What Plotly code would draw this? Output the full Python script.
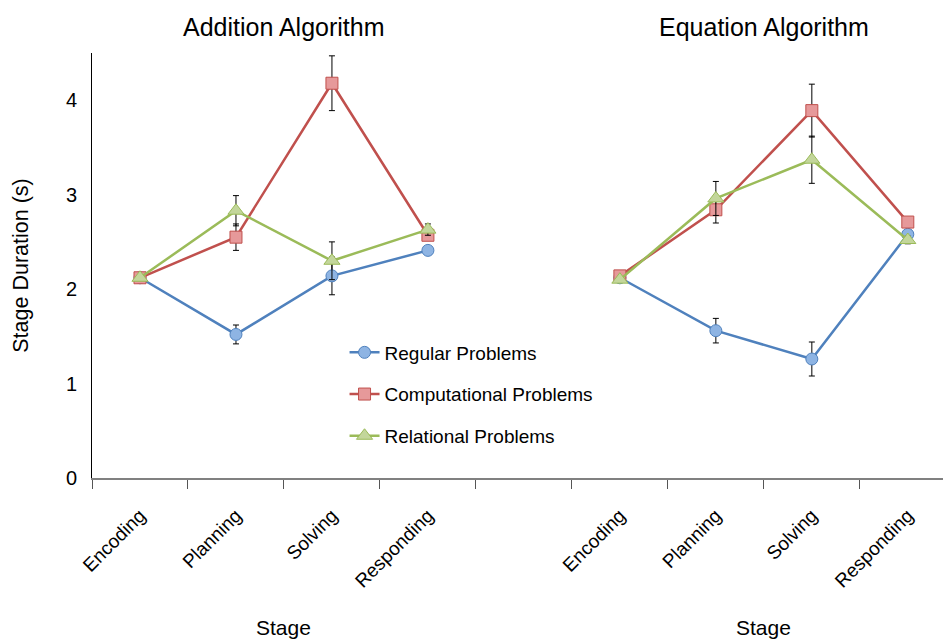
import plotly.graph_objects as go

stages = ["Encoding", "Planning", "Solving", "Responding"]
panels = ["Addition Algorithm", "Equation Algorithm"]
series_names = ["Regular Problems", "Computational Problems", "Relational Problems"]

# Addition algorithm
add_regular = [2.12, 1.52, 2.14, 2.41]
add_regular_err = [0.02, 0.10, 0.20, 0.03]
add_comp = [2.12, 2.55, 4.18, 2.57]
add_comp_err = [0.02, 0.14, 0.29, 0.05]
add_rel = [2.12, 2.83, 2.30, 2.63]
add_rel_err = [0.02, 0.16, 0.20, 0.06]

# Equation algorithm
eq_regular = [2.12, 1.56, 1.26, 2.58]
eq_regular_err = [0.02, 0.13, 0.18, 0.03]
eq_comp = [2.14, 2.84, 3.89, 2.71]
eq_comp_err = [0.02, 0.14, 0.28, 0.04]
eq_rel = [2.10, 2.96, 3.37, 2.52]
eq_rel_err = [0.02, 0.18, 0.25, 0.04]

line_colors = ["#4F81BD", "#C0504D", "#9BBB59"]
fill_colors = ["#8EB4E3", "#E6999A", "#C3D69B"]
symbols = ["circle", "square", "triangle-up"]
sizes = [12, 12, 14]

FONT = "Liberation Sans, Arial, sans-serif"

x_add = list(range(len(stages)))
x_eq = [len(stages) + 1 + i for i in range(len(stages))]

data = [
    (add_regular, add_regular_err, eq_regular, eq_regular_err),
    (add_comp, add_comp_err, eq_comp, eq_comp_err),
    (add_rel, add_rel_err, eq_rel, eq_rel_err),
]

fig = go.Figure()
for i, (ya, ea, ye, ee) in enumerate(data):
    for xs, ys, es, show in [(x_add, ya, ea, True), (x_eq, ye, ee, False)]:
        fig.add_trace(go.Scatter(
            x=xs, y=ys, mode="lines+markers",
            name=series_names[i], legendgroup=series_names[i], showlegend=show,
            line=dict(color=line_colors[i], width=2.5),
            marker=dict(symbol=symbols[i], size=sizes[i], color=fill_colors[i],
                        line=dict(color=line_colors[i], width=1)),
            error_y=dict(type="data", array=es, visible=True, color="black",
                         thickness=1, width=3),
        ))

tickvals = x_add + x_eq
ticktext = stages + stages

# page body has an 8px margin: figure is sized/placed to compensate
fig.update_layout(
    width=943, height=635,
    margin=dict(l=84, r=0, t=45, b=165, autoexpand=False),
    plot_bgcolor="white", paper_bgcolor="white",
    font=dict(family=FONT, size=18, color="black"),
    showlegend=True,
    legend=dict(x=0.294, y=0.34, xanchor="left", yanchor="top",
                bgcolor="rgba(0,0,0,0)", font=dict(size=19, family=FONT),
                traceorder="grouped", tracegroupgap=14),
    xaxis=dict(
        range=[-0.5, 8.45], tickmode="array", tickvals=tickvals, ticktext=ticktext,
        tickangle=-45, ticks="", showgrid=False, zeroline=False,
        showline=True, linecolor="#808080", linewidth=2,
        tickfont=dict(size=19, family=FONT), ticklabelstandoff=17,
        minor=dict(ticks="outside", tick0=-0.5, dtick=1, ticklen=9,
                   tickcolor="#555555", tickwidth=1, showgrid=False),
    ),
    yaxis=dict(
        range=[0, 4.5], tickmode="array", tickvals=[0, 1, 2, 3, 4],
        ticks="", showgrid=False, zeroline=False,
        showline=True, linecolor="black", linewidth=1,
        tickfont=dict(size=20, family=FONT), ticklabelstandoff=10,
        title=dict(text="Stage Duration (s)", font=dict(size=21.5, family=FONT), standoff=31),
    ),
)

xmid_add = sum(x_add) / len(x_add)
xmid_eq = sum(x_eq) / len(x_eq)
for xm, title in [(xmid_add, panels[0]), (xmid_eq, panels[1])]:
    fig.add_annotation(x=xm, y=1.0, xref="x", yref="paper", yshift=42,
                       text=title, showarrow=False,
                       font=dict(size=25, family=FONT))
    fig.add_annotation(x=xm, y=0, xref="x", yref="paper", yshift=-163,
                       text="Stage", showarrow=False,
                       font=dict(size=21, family=FONT))

fig.write_html("out.html")
